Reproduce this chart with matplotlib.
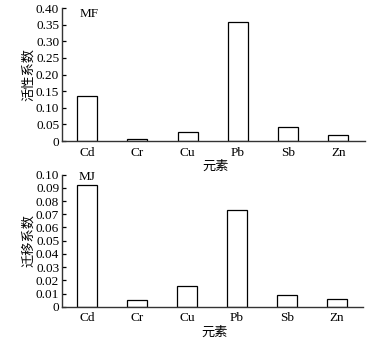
import numpy as np
import matplotlib.pyplot as plt

elements = ["Cd", "Cr", "Cu", "Pb", "Sb", "Zn"]
mf = [0.136, 0.007, 0.028, 0.359, 0.041, 0.017]
mj = [0.092, 0.0048, 0.0155, 0.073, 0.0086, 0.006]
mf_ticks = [0, 0.05, 0.10, 0.15, 0.20, 0.25, 0.30, 0.35, 0.40]
mf_ticklabels = ["0", "0.05", "0.10", "0.15", "0.20", "0.25", "0.30", "0.35", "0.40"]
mj_ticks = [0, 0.01, 0.02, 0.03, 0.04, 0.05, 0.06, 0.07, 0.08, 0.09, 0.10]
mj_ticklabels = ["0", "0.01", "0.02", "0.03", "0.04", "0.05", "0.06", "0.07", "0.08", "0.09", "0.10"]

plt.rcParams['font.family'] = ['Liberation Serif', 'Noto Sans CJK SC']
plt.rcParams['font.size'] = 9.5

fig = plt.figure(figsize=(3.69, 3.39), dpi=100)
ax1 = fig.add_axes([0.168, 0.584, 0.821, 0.392])
ax2 = fig.add_axes([0.168, 0.095, 0.816, 0.390])

x = np.arange(len(elements))

def style(ax, vals, ticks, labels, ylabel, tag, tagpos):
    ax.bar(x, vals, width=0.4, color='white', edgecolor='black', linewidth=0.9)
    ax.set_xlim(-0.5, 5.53)
    ax.set_ylim(0, ticks[-1])
    ax.set_yticks(ticks)
    ax.set_yticklabels(labels)
    ax.set_xticks(x)
    ax.set_xticklabels(elements)
    ax.tick_params(axis='x', length=0, pad=4)
    ax.tick_params(axis='y', direction='in', length=3, pad=2, width=0.9)
    for s in ['top', 'right']:
        ax.spines[s].set_visible(False)
    for s in ['left', 'bottom']:
        ax.spines[s].set_linewidth(1.0)
        ax.spines[s].set_color('#333333')
    ax.set_ylabel(ylabel, family='Noto Sans CJK SC', fontsize=9.5)
    ax.yaxis.set_label_coords(-0.09, 0.5)
    ax.set_xlabel("元素", family='Noto Sans CJK SC', fontsize=9.5)
    ax.xaxis.set_label_coords(0.508, -0.14)
    ax.text(tagpos[0], tagpos[1], tag, transform=ax.transAxes, fontsize=9.5, va='center')

style(ax1, mf, mf_ticks, mf_ticklabels, "活性系数", "MF", (0.058, 0.955))
style(ax2, mj, mj_ticks, mj_ticklabels, "迁移系数", "MJ", (0.055, 0.985))

fig.savefig("out.png", dpi=100)
